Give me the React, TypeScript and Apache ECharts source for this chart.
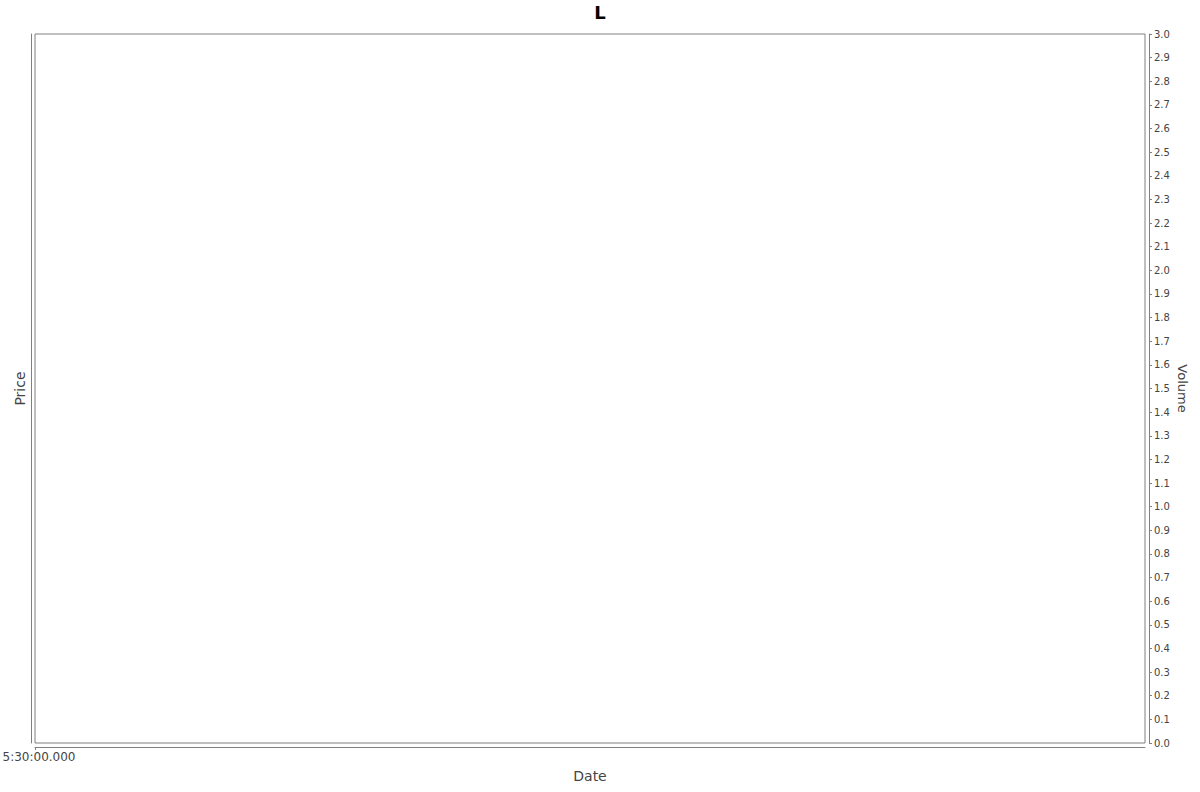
import React, { useEffect, useRef } from "react";
import * as echarts from "echarts";

const titleText = "L";
const dateTickValues = [0];
const dateTickLabels = ["5:30:00.000"];
const priceValues: number[][] = [];
const volumeValues: number[][] = [];
const volumeMin = 0;
const volumeMax = 3;
const volumeStep = 0.1;

const FONT = "DejaVu Sans";
const AXIS_COLOR = "#808080";
const TEXT_COLOR = "#444444";

export default function App() {
  const ref = useRef<HTMLDivElement>(null);
  useEffect(() => {
    document.body.style.margin = "0";
    const chart = echarts.init(ref.current!, undefined, { renderer: "svg" });
    chart.setOption({
      animation: false,
      backgroundColor: "#ffffff",
      title: {
        text: titleText,
        left: "center",
        top: -2,
        textStyle: { fontFamily: FONT, fontSize: 18, fontWeight: "bold", color: "#000" },
      },
      grid: {
        left: 35,
        right: 55,
        top: 34,
        bottom: 49,
        containLabel: false,
        outerBoundsMode: "none",
        show: true,
        borderColor: AXIS_COLOR,
        borderWidth: 1,
        backgroundColor: "#ffffff",
      },
      xAxis: {
        type: "value",
        min: 0,
        max: 1,
        offset: 4,
        name: "Date",
        nameLocation: "middle",
        nameGap: 22,
        nameMoveOverlap: false,
        nameTextStyle: { fontFamily: FONT, fontSize: 14, color: TEXT_COLOR },
        axisLine: { show: true, onZero: false, lineStyle: { color: AXIS_COLOR, width: 1 } },
        axisTick: { show: true, length: 3, inside: false, customValues: dateTickValues, lineStyle: { color: AXIS_COLOR } },
        axisLabel: {
          customValues: dateTickValues,
          formatter: (v: number) => {
            const i = dateTickValues.indexOf(v);
            return i >= 0 ? dateTickLabels[i] : "";
          },
          fontFamily: FONT,
          fontSize: 12,
          color: TEXT_COLOR,
          margin: 4,
          padding: [0, 0, 0, 8],
          showMinLabel: true,
        },
        splitLine: { show: false },
      },
      yAxis: [
        {
          type: "value",
          position: "left",
          min: 0,
          max: 1,
          offset: 4,
          name: "Price",
          nameLocation: "middle",
          nameGap: 4,
          nameMoveOverlap: false,
          nameTextStyle: { fontFamily: FONT, fontSize: 14, color: TEXT_COLOR },
          axisLine: { show: true, onZero: false, lineStyle: { color: AXIS_COLOR, width: 1 } },
          axisTick: { show: false },
          axisLabel: { show: false },
          splitLine: { show: false },
        },
        {
          type: "value",
          position: "right",
          min: volumeMin,
          max: volumeMax,
          interval: volumeStep,
          offset: 4,
          name: "Volume",
          nameLocation: "middle",
          nameGap: 27,
          nameRotate: -90,
          nameMoveOverlap: false,
          nameTextStyle: { fontFamily: FONT, fontSize: 13, color: TEXT_COLOR },
          axisLine: { show: true, onZero: false, lineStyle: { color: AXIS_COLOR, width: 1 } },
          axisTick: { show: true, length: 3, inside: false, lineStyle: { color: AXIS_COLOR } },
          axisLabel: {
            formatter: (v: number) => v.toFixed(1),
            fontFamily: FONT,
            fontSize: 10,
            color: TEXT_COLOR,
            margin: 5,
          },
          splitLine: { show: false },
        },
      ],
      series: [
        { type: "line", yAxisIndex: 0, data: priceValues, symbol: "none" },
        { type: "bar", yAxisIndex: 1, data: volumeValues },
      ],
    });
    return () => chart.dispose();
  }, []);
  return <div ref={ref} style={{ width: 1200, height: 792 }} />;
}
